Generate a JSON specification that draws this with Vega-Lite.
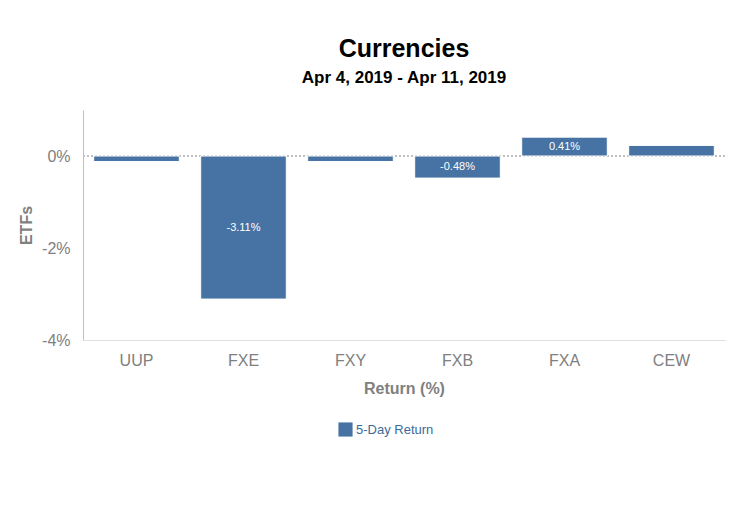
{
  "$schema": "https://vega.github.io/schema/vega-lite/v6.json",
  "width": 642,
  "height": 230,
  "autosize": {"type": "none"},
  "padding": {"left": 83, "top": 110, "right": 25, "bottom": 166},
  "background": "white",
  "config": {
    "font": "Liberation Sans",
    "view": {"stroke": null}
  },
  "title": {
    "text": "Currencies",
    "subtitle": "Apr 4, 2019 - Apr 11, 2019",
    "fontSize": 25,
    "fontWeight": "bold",
    "color": "#000000",
    "subtitleFontSize": 17,
    "subtitleFontWeight": "bold",
    "subtitleColor": "#000000",
    "subtitlePadding": 8,
    "offset": 24,
    "anchor": "middle"
  },
  "data": {
    "values": [
      {"etf": "UUP", "value": -0.12},
      {"etf": "FXE", "value": -3.11},
      {"etf": "FXY", "value": -0.12},
      {"etf": "FXB", "value": -0.48},
      {"etf": "FXA", "value": 0.41},
      {"etf": "CEW", "value": 0.23}
    ]
  },
  "layer": [
    {
      "mark": {"type": "rule", "color": "#c0c0c0", "strokeDash": [2, 2], "strokeWidth": 1},
      "encoding": {"y": {"datum": 0, "type": "quantitative"}}
    },
    {
      "mark": {"type": "bar", "stroke": "#ffffff", "strokeWidth": 1},
      "encoding": {
        "x": {
          "field": "etf",
          "type": "nominal",
          "sort": null,
          "scale": {"paddingInner": 0.2, "paddingOuter": 0.1},
          "axis": {
            "title": "Return (%)",
            "labelAngle": 0,
            "labelFontSize": 16,
            "labelColor": "#808080",
            "labelPadding": 12,
            "ticks": false,
            "domainColor": "#e0e0e0",
            "titleFontSize": 16,
            "titleFontWeight": "bold",
            "titleColor": "#808080",
            "titlePadding": 12
          }
        },
        "y": {
          "field": "value",
          "type": "quantitative",
          "scale": {"domain": [-4, 1], "nice": false, "zero": false},
          "axis": {
            "title": "ETFs",
            "values": [-4, -2, 0],
            "labelExpr": "datum.value + '%'",
            "labelFontSize": 16,
            "labelColor": "#808080",
            "labelPadding": 13,
            "ticks": false,
            "grid": false,
            "domainColor": "#c0c0c0",
            "titleFontSize": 16,
            "titleFontWeight": "bold",
            "titleColor": "#808080",
            "titlePadding": 7
          }
        },
        "color": {
          "datum": "5-Day Return",
          "type": "nominal",
          "scale": {"range": ["#4673a3"]},
          "legend": {
            "title": null,
            "orient": "none",
            "legendX": 255,
            "legendY": 312,
            "symbolType": "square",
            "symbolSize": 200,
            "symbolStrokeWidth": 0,
            "labelFontSize": 13,
            "labelColor": "#3d6a99",
            "labelOffset": 3
          }
        }
      }
    },
    {
      "transform": [
        {"filter": "abs(datum.value) > 0.3"},
        {"calculate": "datum.value / 2", "as": "mid"},
        {"calculate": "replace(format(datum.value, '.2f'), '\u2212', '-') + '%'", "as": "label"}
      ],
      "mark": {"type": "text", "color": "#ffffff", "fontSize": 11, "baseline": "middle"},
      "encoding": {
        "x": {"field": "etf", "type": "nominal", "sort": null},
        "y": {"field": "mid", "type": "quantitative"},
        "text": {"field": "label"}
      }
    }
  ]
}
